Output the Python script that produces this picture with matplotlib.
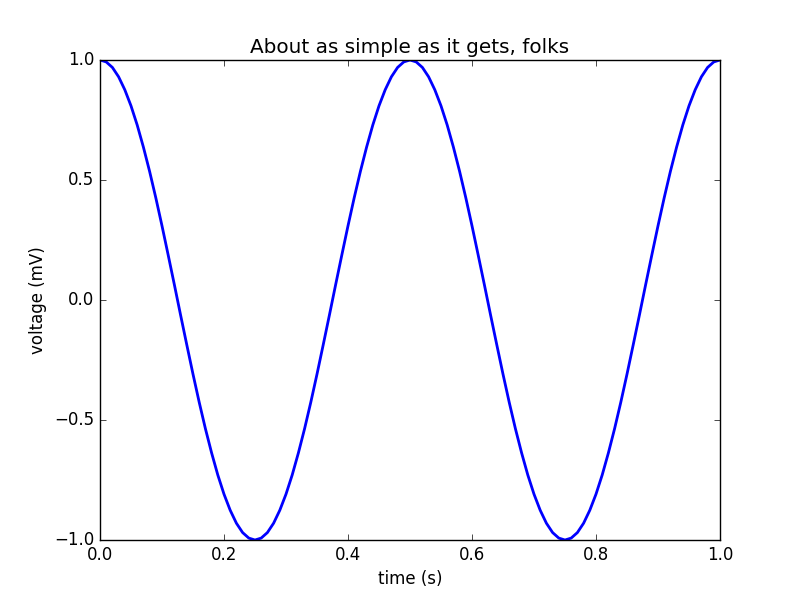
import numpy as np
import matplotlib
matplotlib.use("Agg")
import matplotlib.pyplot as plt

# voltage samples, one every 0.01 s
voltage = [
    1.000, 0.992, 0.969, 0.930, 0.876, 0.809, 0.729, 0.637, 0.536, 0.426,
    0.309, 0.187, 0.063, -0.063, -0.187, -0.309, -0.426, -0.536, -0.637, -0.729,
    -0.809, -0.876, -0.930, -0.969, -0.992, -1.000, -0.992, -0.969, -0.930, -0.876,
    -0.809, -0.729, -0.637, -0.536, -0.426, -0.309, -0.187, -0.063, 0.063, 0.187,
    0.309, 0.426, 0.536, 0.637, 0.729, 0.809, 0.876, 0.930, 0.969, 0.992,
    1.000, 0.992, 0.969, 0.930, 0.876, 0.809, 0.729, 0.637, 0.536, 0.426,
    0.309, 0.187, 0.063, -0.063, -0.187, -0.309, -0.426, -0.536, -0.637, -0.729,
    -0.809, -0.876, -0.930, -0.969, -0.992, -1.000, -0.992, -0.969, -0.930, -0.876,
    -0.809, -0.729, -0.637, -0.536, -0.426, -0.309, -0.187, -0.063, 0.063, 0.187,
    0.309, 0.426, 0.536, 0.637, 0.729, 0.809, 0.876, 0.930, 0.969, 0.992,
    1.000,
]
time = np.linspace(0.0, 1.0, len(voltage))

plt.style.use('classic')
fig = plt.figure(figsize=(8, 6), dpi=100, facecolor='white')
ax = fig.add_subplot(111)
ax.plot(time, voltage, color='b', linewidth=2)
ax.set_xlim(0, 1)
ax.set_ylim(-1, 1)
ax.set_xticks([0.0, 0.2, 0.4, 0.6, 0.8, 1.0])
ax.set_yticks([-1.0, -0.5, 0.0, 0.5, 1.0])
ax.set_xlabel("time (s)")
ax.set_ylabel("voltage (mV)")
ax.set_title("About as simple as it gets, folks")
fig.savefig("out.png", dpi=100, facecolor='white')
